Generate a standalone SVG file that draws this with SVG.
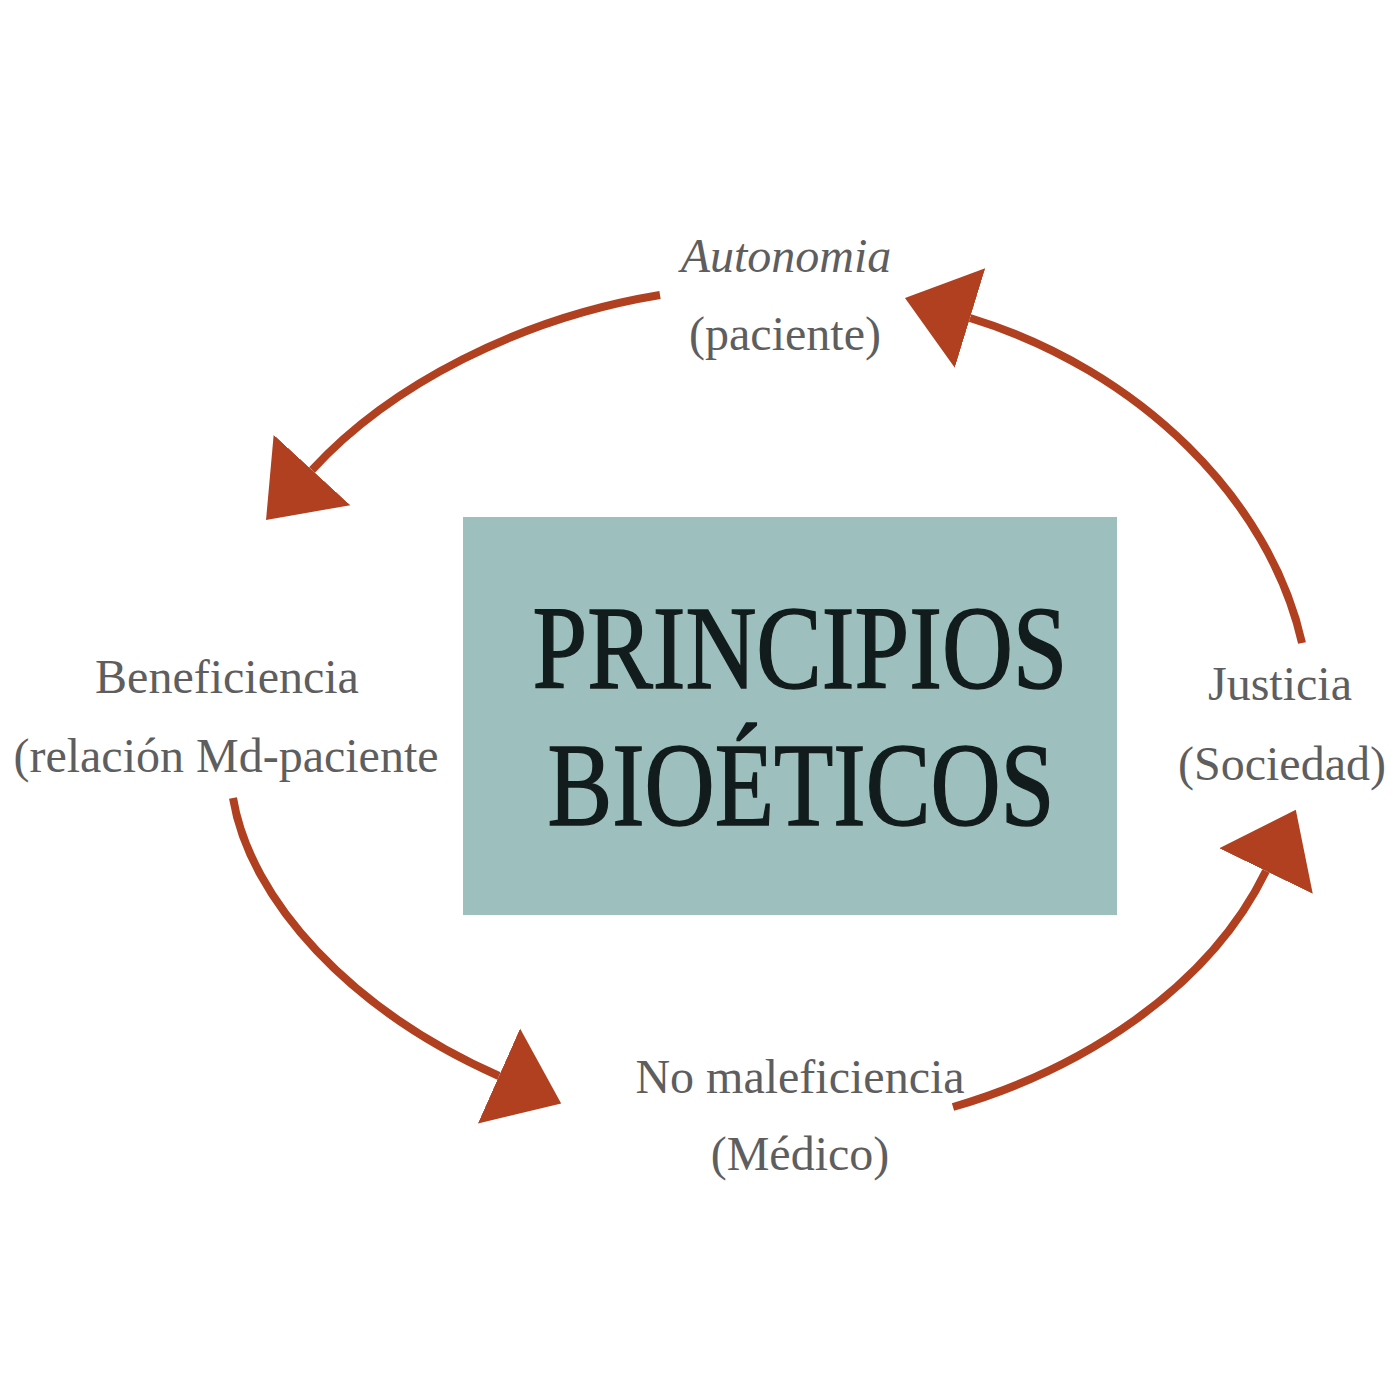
<svg xmlns="http://www.w3.org/2000/svg" width="1400" height="1400" viewBox="0 0 1400 1400">
  <defs>
    <style>
      .lbl { font-family: "Liberation Serif", "DejaVu Serif", serif; font-size: 48px; fill: #5e5e5e; text-anchor: middle; }
      .title { font-family: "Liberation Serif", "DejaVu Serif", serif; font-size: 118px; fill: #121c1c; stroke: #121c1c; stroke-width: 1.5; text-anchor: middle; }
      .conn { fill: none; stroke: #b0401f; stroke-width: 8; stroke-linecap: butt; marker-end: url(#head); }
    </style>
    <marker id="head" markerUnits="userSpaceOnUse" markerWidth="72" markerHeight="108" viewBox="0 -54 72 108" refX="0" refY="0" orient="auto">
      <path d="M0,-52 L68,0 L0,52 Z" fill="#b0401f"/>
    </marker>
  </defs>
  <rect width="1400" height="1400" fill="#ffffff"/>

  <g id="center">
    <rect x="463" y="517" width="654" height="398" fill="#9dbfbd"/>
    <text class="title" x="800" y="688" textLength="535" lengthAdjust="spacingAndGlyphs">PRINCIPIOS</text>
    <text class="title" x="801" y="825" textLength="507" lengthAdjust="spacingAndGlyphs">BIOÉTICOS</text>
  </g>

  <g id="autonomia">
    <text class="lbl" x="786" y="272" font-style="italic">Autonomia</text>
    <text class="lbl" x="785" y="350">(paciente)</text>
  </g>

  <g id="beneficiencia">
    <text class="lbl" x="227" y="693">Beneficiencia</text>
    <text class="lbl" x="226" y="772">(relación Md-paciente</text>
  </g>

  <g id="justicia">
    <text class="lbl" x="1280" y="700">Justicia</text>
    <text class="lbl" x="1282" y="780">(Sociedad)</text>
  </g>

  <g id="nomaleficiencia">
    <text class="lbl" x="800" y="1093">No maleficiencia</text>
    <text class="lbl" x="800" y="1170">(Médico)</text>
  </g>

  <g id="connectors">
    <path class="conn" d="M660,295 C520,318 390,385 312,470"/>
    <path class="conn" d="M233,798 C250,900 350,1010 499,1076"/>
    <path class="conn" d="M953,1107 C1080,1070 1208,990 1266,871"/>
    <path class="conn" d="M1302,643 C1270,500 1140,370 970,318"/>
  </g>
</svg>
